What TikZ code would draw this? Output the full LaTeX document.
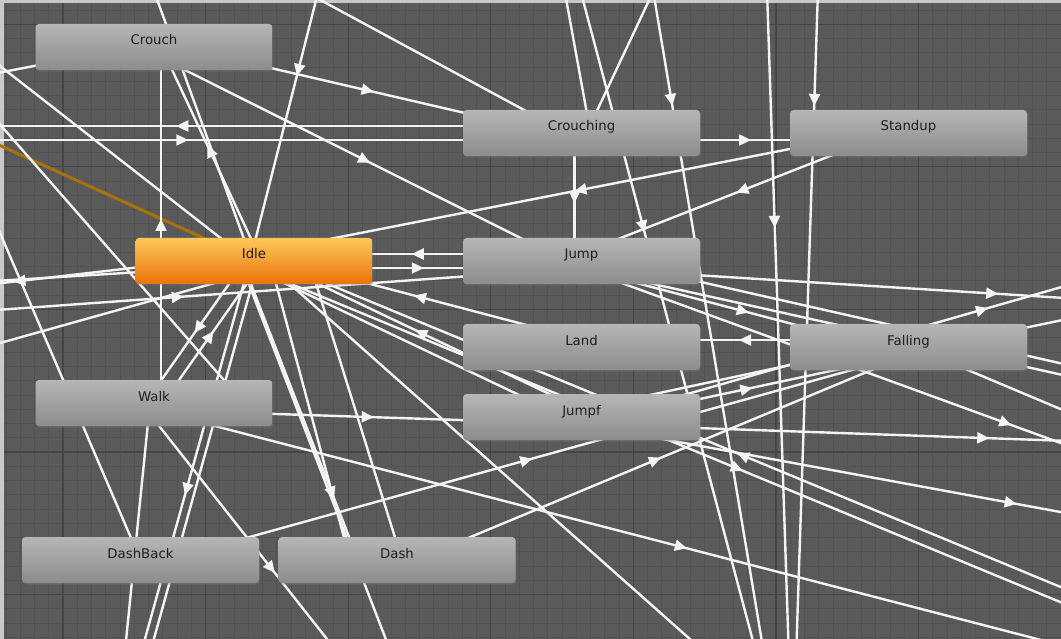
\documentclass[tikz,border=0pt]{standalone}
\usepackage{fontspec}
\setmainfont{DejaVu Sans}
\usetikzlibrary{arrows.meta,decorations.markings,shadows}
\pgfdeclarelayer{gridlayer}
\pgfdeclarelayer{edgelayer}
\pgfsetlayers{gridlayer,edgelayer,main}
\definecolor{bgc}{HTML}{5A5A5A}
\definecolor{minorc}{HTML}{525252}
\definecolor{majorc}{HTML}{454545}
\definecolor{stripc}{HTML}{C8C8C8}
\definecolor{nodetop}{HTML}{B6B6B6}
\definecolor{nodebot}{HTML}{8C8C8C}
\definecolor{idletop}{HTML}{FFC65A}
\definecolor{idlebot}{HTML}{E8740A}
\definecolor{nodetext}{HTML}{1E1E1E}
\definecolor{linec}{HTML}{F4F4F4}
\definecolor{entryc}{HTML}{A8720A}
\tikzset{
  state/.style={rectangle, rounded corners=3.5pt, minimum width=237pt, minimum height=46pt,
    inner sep=0pt, top color=nodetop, bottom color=nodebot, draw=none, text=nodetext,
    font=\fontsize{13.3}{15}\selectfont, text height=10pt, text depth=14pt,
    drop shadow={opacity=0.35, shadow xshift=0.8pt, shadow yshift=-1.5pt}},
  idlestate/.style={state, top color=idletop, bottom color=idlebot},
  ln/.style={draw=linec, line width=2.4pt},
  entry/.style={draw=entryc, line width=3pt},
  tr/.style={ln, postaction={decorate}, decoration={markings,
    mark=at position #1 with {\arrow[xshift=6pt]{Triangle[length=12pt,width=11pt]}}}},
  minorl/.style={draw=minorc, line width=0.9pt},
  majorl/.style={draw=majorc, line width=1.1pt}
}
\begin{document}
\begin{tikzpicture}[x=1pt,y=-1pt]
\useasboundingbox (0,0) rectangle (1061,639);
% ---------- states ----------
\node[state] (Crouch)    at (154,47)    {Crouch};
\node[state] (Crouching) at (581.5,133) {Crouching};
\node[state] (Standup)   at (908.5,133) {Standup};
\node[idlestate] (Idle)  at (254,261)   {Idle};
\node[state] (Jump)      at (581.5,261) {Jump};
\node[state] (Land)      at (581.5,347) {Land};
\node[state] (Falling)   at (908.5,347) {Falling};
\node[state] (Walk)      at (154,403)   {Walk};
\node[state] (Jumpf)     at (581.5,417) {Jumpf};
\node[state] (DashBack)  at (140.5,560) {DashBack};
\node[state] (Dash)      at (397,560)   {Dash};
% ---------- off-view ends ----------
\coordinate (OL1) at (-217,133);
\coordinate (OT1) at (330,-55);
\coordinate (OT2) at (300,-11);
\coordinate (OT3) at (150,-20);
\coordinate (OT4) at (559,-40);
\coordinate (OT5) at (575,-30);
\coordinate (OB5) at (758,660);
\coordinate (OT6) at (661,-25);
\coordinate (OT7) at (653,-10);
\coordinate (OB7) at (765,660);
\coordinate (OT8) at (767,-10);
\coordinate (OB8) at (789,660);
\coordinate (OT9) at (818,-10);
\coordinate (OB9) at (796,660);
\coordinate (OR1) at (1403,312);
\coordinate (OR2) at (1379,189);
\coordinate (OR3) at (1435,572);
\coordinate (OR4) at (1385,445);
\coordinate (OR5) at (1443,575);
\coordinate (OR6) at (1226,663);
\coordinate (OR7) at (1212,677);
\coordinate (OR8) at (1400,250);
\coordinate (OR9) at (1400,450);
\coordinate (OR10) at (1400,440);
\coordinate (OR11) at (1300,510);
\coordinate (OB10) at (375,700);
\coordinate (OB11) at (128,700);
\coordinate (OB12) at (137,700);
\coordinate (OB13) at (120,700);
\coordinate (OB14) at (390,650);
\coordinate (OB15) at (700,648);
\coordinate (OTL) at (-27,170);
\coordinate (OL2) at (-60,84);
\coordinate (OL3) at (-100,-12);
\coordinate (OL4) at (-60,56);
\coordinate (OL5) at (-214,315);
\coordinate (OL6) at (-227,319);
\coordinate (OL7) at (-100,371);
\coordinate (OL9) at (-150,290);
\coordinate (OE) at (-100,100);
% ---------- grid ----------
\begin{pgfonlayer}{gridlayer}
\fill[bgc] (0,0) rectangle (1061,639);
\foreach \i in {0,...,75} {\draw[minorl] ({-8.3+14.26*\i},0) -- ({-8.3+14.26*\i},639);}
\foreach \j in {0,...,45} {\draw[minorl] (0,{-4.3+14.26*\j}) -- (1061,{-4.3+14.26*\j});}
\foreach \k in {0,...,7} {\draw[majorl] ({63+142.6*\k},0) -- ({63+142.6*\k},639);}
\foreach \k in {0,...,4} {\draw[majorl] (0,{24.2+142.6*\k}) -- (1061,{24.2+142.6*\k});}
\fill[stripc] (0,0) rectangle (1061,3.5);
\fill[stripc] (0,0) rectangle (3.5,639);
\end{pgfonlayer}
% ---------- transitions ----------
\begin{pgfonlayer}{edgelayer}
\clip (0,0) rectangle (1061,639);
\draw[entry] (OE) -- (Idle.center);
% top-left
\draw[ln] (OL2) -- ([shift={(0,-4)}]Crouch.center);
\draw[ln] (OL3) -- ([shift={(-4,0)}]Idle.center);
\draw[ln] (OL4) -- ([shift={(90,0)}]Walk.center);
\draw[ln] (OTL) -- (DashBack.center);
\draw[tr=0.5] ([shift={(0,-7)}]Crouching.center) -- ([shift={(0,-7)}]OL1);
\draw[tr=0.5] ([shift={(0,7)}]OL1) -- ([shift={(0,7)}]Crouching.center);
\draw[tr=0.5] ([shift={(0,-6)}]Crouch.center) -- ([shift={(0,7)}]Crouching.center);
\draw[tr=0.5] ([shift={(-3,6)}]Crouch.center) -- ([shift={(-3,6)}]Jump.center);
\draw[ln] (OT2) -- ([shift={(0,8)}]Crouching.center);
\draw[tr=0.396] (OT1) -- ([shift={(-4,0)}]Idle.center);
\draw[tr=0.5] ([shift={(6,-3)}]Idle.center) -- ([shift={(6,-3)}]Crouch.center);
\draw[ln] (OT3) -- ([shift={(-2,0)}]Idle.center);
\draw[tr=0.5] ([shift={(7,0)}]Walk.center) -- ([shift={(7,0)}]Crouch.center);
\draw[tr=0.5] ([shift={(6,4)}]Walk.center) -- ([shift={(6,4)}]Idle.center);
\draw[tr=0.5] ([shift={(-6,-4)}]Idle.center) -- ([shift={(-6,-4)}]Walk.center);
% Idle / left side
\draw[tr=0.5] ([shift={(-0.6,-7)}]Idle.center) -- ([shift={(-0.6,-7)}]OL5);
\draw[tr=0.5] ([shift={(0.6,7)}]OL6) -- ([shift={(0.6,7)}]Jump.center);
\draw[ln] (OL7) -- ([shift={(0,11)}]Idle.center);
\draw[ln] (OL9) -- ([shift={(0,4)}]Idle.center);
% upper middle / right
\draw[tr=0.5] ([shift={(-1,-7)}]Standup.center) -- ([shift={(-1,-7)}]Idle.center);
\draw[tr=0.5] ([shift={(-3,-6.5)}]Standup.center) -- ([shift={(-3,-6.5)}]Jump.center);
\draw[tr=0.5] ([shift={(0,7)}]Crouching.center) -- ([shift={(0,7)}]Standup.center);
\draw[tr=0.5] ([shift={(-7,0)}]Crouching.center) -- ([shift={(-7,0)}]Jump.center);
\draw[tr=0.5] ([shift={(0,7)}]Idle.center) -- ([shift={(0,7)}]Jump.center);
\draw[tr=0.5] ([shift={(0,-7)}]Jump.center) -- ([shift={(0,-7)}]Idle.center);
\draw[ln] (OT4) -- ([shift={(9,0)}]Crouching.center);
\draw[tr=0.372] (OT5) -- (OB5);
\draw[ln] (OT6) -- ([shift={(5,0)}]Crouching.center);
\draw[tr=0.164] (OT7) -- (OB7);
\draw[tr=0.346] (OT8) -- (OB8);
\draw[tr=0.164] (OT9) -- (OB9);
% Jump / Land / Falling / Jumpf
\draw[tr=0.5] ([shift={(0,7)}]Jump.center) -- ([shift={(0,7)}]OR1);
\draw[tr=0.5] ([shift={(2,6.7)}]Jumpf.center) -- ([shift={(2,6.7)}]OR2);
\draw[tr=0.5] ([shift={(-2.5,6.5)}]Jump.center) -- ([shift={(-2.5,6.5)}]OR3);
\draw[tr=0.5] ([shift={(0,7)}]Jumpf.center) -- ([shift={(0,7)}]OR4);
\draw[tr=0.5] ([shift={(-1.4,6.9)}]Jumpf.center) -- ([shift={(-1.4,6.9)}]OR5);
\draw[tr=0.5] ([shift={(2.7,-6.5)}]OR6) -- ([shift={(2.7,-6.5)}]Idle.center);
\draw[tr=0.5] ([shift={(-2.7,6.5)}]Idle.center) -- ([shift={(-2.7,6.5)}]OR6);
\draw[tr=0.5] ([shift={(2,-7)}]Land.center) -- ([shift={(2,-7)}]Idle.center);
\draw[tr=0.5] ([shift={(3,-6.3)}]Jumpf.center) -- ([shift={(3,-6.3)}]Idle.center);
\draw[ln] ([shift={(-3,6.3)}]Idle.center) -- ([shift={(-3,6.3)}]Jumpf.center);
\draw[tr=0.5] ([shift={(-2,7)}]Jump.center) -- ([shift={(-2,7)}]Falling.center);
\draw[tr=0.5] ([shift={(0,-7)}]Falling.center) -- ([shift={(0,-7)}]Land.center);
\draw[tr=0.5] ([shift={(1.5,7)}]Jumpf.center) -- ([shift={(1.5,7)}]Falling.center);
\draw[ln] ([shift={(-1.5,-7)}]Falling.center) -- ([shift={(-1.5,-7)}]Jumpf.center);
\draw[ln] ([shift={(0,5)}]Falling.center) -- (OR8);
\draw[ln] ([shift={(0,7)}]Jump.center) -- (OR9);
\draw[ln] ([shift={(0,-6)}]Jump.center) -- (OR10);
\draw[ln] ([shift={(0,-2)}]Falling.center) -- (OR11);
% lower part
\draw[tr=0.5] ([shift={(2.7,6.5)}]Dash.center) -- ([shift={(2.7,6.5)}]Falling.center);
\draw[tr=0.5] ([shift={(2,6.7)}]DashBack.center) -- ([shift={(2,6.7)}]Falling.center);
\draw[tr=0.5] ([shift={(0,7)}]Walk.center) -- ([shift={(0,7)}]Jumpf.center);
\draw[tr=0.5] ([shift={(-1.9,6.8)}]Walk.center) -- ([shift={(-1.9,6.8)}]OR7);
\draw[tr=0.556] ([shift={(-13,0)}]Walk.center) -- (OB10);
\draw[tr=0.52] ([shift={(-4,0)}]Idle.center) -- (OB11);
\draw[ln] ([shift={(4,2)}]Idle.center) -- (OB12);
\draw[ln] (OB13) -- ([shift={(-4,0)}]Walk.center);
\draw[tr=0.776] ([shift={(-12,0)}]Idle.center) -- ([shift={(-39,0)}]Dash.center);
\draw[ln] ([shift={(16,0)}]Idle.center) -- ([shift={(-47,0)}]Dash.center);
\draw[ln] ([shift={(55,0)}]Idle.center) -- ([shift={(5,0)}]Dash.center);
\draw[ln] ([shift={(-14,0)}]Idle.center) -- (OB14);
\draw[ln] ([shift={(10,0)}]Idle.center) -- (OB15);
\end{pgfonlayer}
\end{tikzpicture}
\end{document}
